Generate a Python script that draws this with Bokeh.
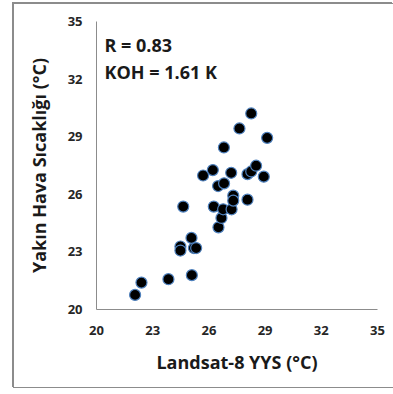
from bokeh.plotting import figure
from bokeh.models import Range1d, FixedTicker, Label
from bokeh.embed import file_html
from bokeh.resources import INLINE

landsat_yys = [22.06, 22.40, 23.84, 25.09, 24.48, 24.48, 25.20, 25.32, 25.07, 24.63,
               25.69, 26.21, 26.26, 26.51, 26.67, 26.76, 26.49, 26.81, 26.80, 27.19,
               27.21, 27.30, 27.30, 27.63, 28.26, 29.11, 28.06, 28.06, 28.26, 28.52, 28.93]
hava_sicakligi = [20.76, 21.40, 21.58, 21.79, 23.28, 23.07, 23.20, 23.20, 23.73, 25.36,
                  26.98, 27.26, 25.36, 24.28, 24.77, 25.22, 26.43, 26.57, 28.44, 27.12,
                  25.22, 25.93, 25.67, 29.43, 30.21, 28.94, 25.72, 27.05, 27.19, 27.49, 26.92]
tick_values = [20, 23, 26, 29, 32, 35]
stats_lines = ["R = 0.83", "KOH = 1.61 K"]
stats_y = [33.78, 32.38]

FONT = "Open Sans"

p = figure(width=380, height=385, output_backend="svg", toolbar_location=None,
           x_range=Range1d(20, 35), y_range=Range1d(20, 35),
           min_border_left=82, min_border_right=17, min_border_top=17, min_border_bottom=80,
           styles={"margin-top": "3px", "margin-left": "13px",
                   "border": "1px solid #8c8c8c", "border-right-width": "0px",
                   "box-shadow": "-1px -1px 0px 0px #8c8c8c"})
p.outline_line_color = None
p.grid.grid_line_color = None

for ax in (p.xaxis, p.yaxis):
    ax.ticker = FixedTicker(ticks=tick_values)
    ax.axis_line_color = "#8c8c8c"
    ax.axis_line_width = 1
    ax.major_tick_line_color = None
    ax.minor_tick_line_color = None
    ax.major_label_text_font = FONT
    ax.major_label_text_font_style = "bold"
    ax.major_label_text_font_size = "13px"
    ax.major_label_text_color = "#262626"
    ax.axis_label_text_font = FONT
    ax.axis_label_text_font_style = "bold"
    ax.axis_label_text_font_size = "18px"
    ax.axis_label_text_color = "#1a1a1a"

p.xaxis.axis_label = "Landsat-8 YYS (°C)"
p.yaxis.axis_label = "Yakın Hava Sıcaklığı (°C)"
p.xaxis.major_label_standoff = 10
p.yaxis.major_label_standoff = 8
p.xaxis.axis_label_standoff = 12
p.yaxis.axis_label_standoff = 14

p.scatter(landsat_yys, hava_sicakligi, size=11, fill_color="black",
          line_color="#4f81bd", line_width=1.2)

for txt, yy in zip(stats_lines, stats_y):
    p.add_layout(Label(x=20.43, y=yy, text=txt, text_font=FONT, text_font_style="bold",
                       text_font_size="18px", text_color="#1a1a1a",
                       text_baseline="alphabetic"))

open("out.html", "w").write(file_html(p, INLINE))
